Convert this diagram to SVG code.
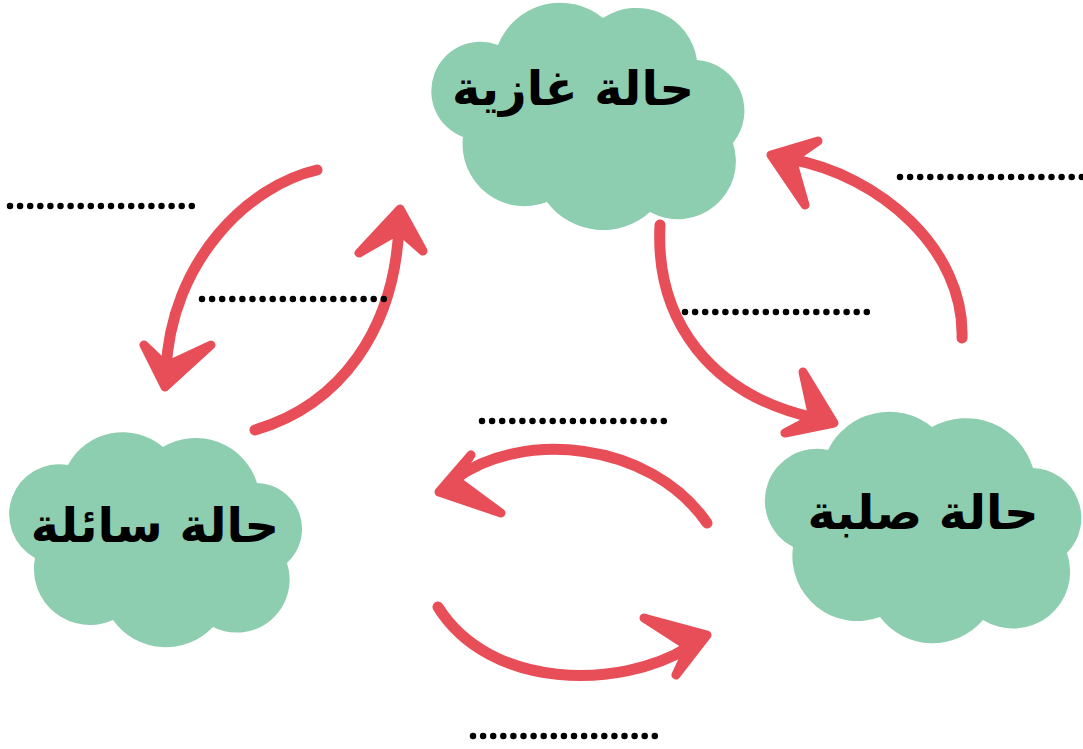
<svg xmlns="http://www.w3.org/2000/svg" width="1083" height="749" viewBox="0 0 1083 749">
<style>
.cloud{fill:#8DCDB0;}
.lbl{font-family:"DejaVu Sans","Noto Sans",sans-serif;font-weight:bold;font-size:48px;fill:#000;text-anchor:middle;}
.shaft{fill:none;stroke:#E84E58;stroke-width:11;stroke-linecap:round;}
.head{fill:#E84E58;stroke:#E84E58;stroke-width:9;stroke-linecap:round;stroke-linejoin:round;}
.dots{stroke:#000;stroke-width:6.5;stroke-linecap:round;stroke-dasharray:0 10.1;}
</style>
<rect width="1083" height="749" fill="#fff"/>
<g id="gas">
<path class="cloud" d="M498,45 A67,67 0 0 1 603,18 A61,61 0 0 1 697,60 A51,51 0 0 1 733,143 A58,58 0 0 1 650,212 A70,70 0 0 1 547,202 A62,62 0 0 1 463,137 A48,48 0 0 1 498,45 Z"/>
<text class="lbl" x="573" y="105">حالة غازية</text>
</g>
<g id="liquid">
<path class="cloud" d="M68,465 A62,62 0 0 1 163,447 A64,64 0 0 1 257,483 A46,46 0 0 1 287,563 A53,53 0 0 1 213,627 A65,65 0 0 1 113,620 A56,56 0 0 1 35,558 A50,50 0 0 1 68,465 Z"/>
<text class="lbl" x="155" y="542">حالة سائلة</text>
</g>
<g id="solid">
<path class="cloud" d="M828,450 A68,68 0 0 1 932,427 A70,70 0 0 1 1033,468 A50,50 0 0 1 1067,553 A57,57 0 0 1 983,620 A66,66 0 0 1 880,617 A65,65 0 0 1 793,547 A52,52 0 0 1 828,450 Z"/>
<text class="lbl" x="923" y="529">حالة صلبة</text>
</g>
<g id="connectors">
<path class="shaft" d="M317,170 C250,185 170,260 166,372"/>
<path class="head" d="M144,345 L165,387 L211,345 L166,366 Z"/>
<path class="shaft" d="M255,430 C340,405 395,330 399,225"/>
<path class="head" d="M359,253 L400,209 L423,251 L399,230 Z"/>
<path class="shaft" d="M962,338 C965,250 880,175 790,159"/>
<path class="head" d="M818,141 L771,155 L805,205 L792,159 Z"/>
<path class="shaft" d="M660,225 C655,320 710,395 815,418"/>
<path class="head" d="M803,372 L834,423 L785,433 L813,418 Z"/>
<path class="shaft" d="M707,523 C650,440 520,430 455,479"/>
<path class="head" d="M471,455 L439,492 L501,513 L455,479 Z"/>
<path class="shaft" d="M438,607 C490,690 620,690 689,647"/>
<path class="head" d="M644,618 L707,635 L676,675 L689,647 Z"/>
</g>
<g id="blanks">
<line class="dots" x1="10" y1="206" x2="192.5" y2="206"/>
<line class="dots" x1="202" y1="299" x2="384.5" y2="299"/>
<line class="dots" x1="900" y1="177" x2="1082.5" y2="177"/>
<line class="dots" x1="685" y1="312" x2="867.5" y2="312"/>
<line class="dots" x1="482" y1="421" x2="664.5" y2="421"/>
<line class="dots" x1="473" y1="736" x2="655.5" y2="736"/>
</g>
</svg>
